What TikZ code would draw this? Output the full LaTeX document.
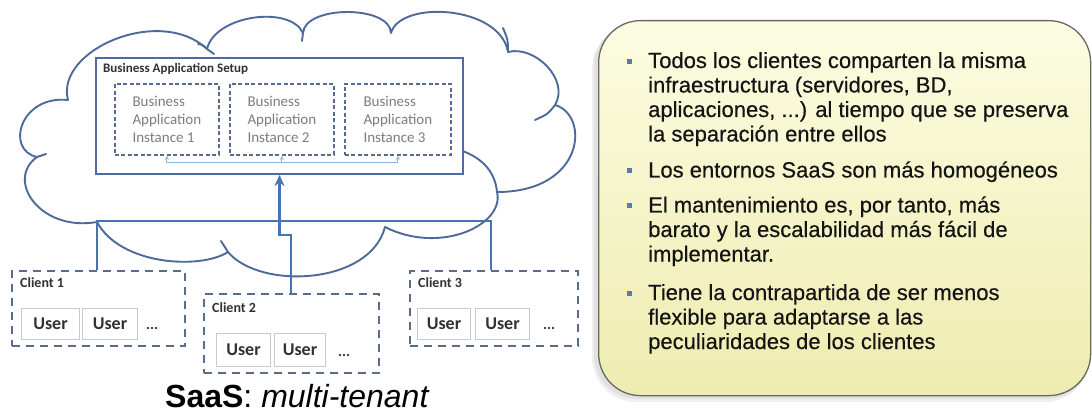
\documentclass[tikz,border=0pt]{standalone}
\usepackage{fontspec}
\setmainfont{Liberation Sans}
\newfontfamily\carl{Carlito}
\newfontfamily\pfont[FakeBold=0.4]{Liberation Sans}
\usetikzlibrary{arrows.meta}
\definecolor{cloudc}{RGB}{78,106,155}
\definecolor{connc}{RGB}{68,116,180}
\definecolor{boxc}{RGB}{78,108,160}
\definecolor{dashc}{RGB}{88,108,145}
\definecolor{userc}{RGB}{200,202,208}
\definecolor{lblc}{RGB}{50,50,50}
\definecolor{instc}{RGB}{125,125,125}
\definecolor{litec}{RGB}{150,180,215}
\definecolor{bulc}{RGB}{95,118,175}
\definecolor{txtc}{RGB}{20,20,20}
\definecolor{paneltop}{RGB}{252,252,226}
\definecolor{panelbot}{RGB}{238,236,176}
\definecolor{panelln}{RGB}{105,105,95}
\begin{document}
\begin{tikzpicture}[x=1pt,y=-1pt,
  cloudln/.style={draw=cloudc,line width=1.9pt,line join=round,line cap=round},
  conn/.style={draw=connc,line width=2.4pt},
  lite/.style={draw=litec,line width=1pt},
  setupbox/.style={draw=boxc,line width=2pt,fill=white,inner sep=0pt,anchor=north west},
  instbox/.style={draw=dashc,line width=1.8pt,dash pattern=on 4pt off 2.5pt,inner sep=0pt,anchor=north west,font=\carl\fontsize{15}{18}\selectfont,text=instc,align=left},
  clientbox/.style={draw=dashc,line width=2pt,dash pattern=on 8pt off 6pt,inner sep=0pt,anchor=north west},
  userbox/.style={draw=userc,line width=1pt,fill=white,inner sep=0pt,anchor=north west,font=\carl\bfseries\fontsize{18}{20}\selectfont,text=lblc},
  clientlbl/.style={anchor=base west,inner sep=0pt,font=\carl\bfseries\fontsize{14}{16}\selectfont,text=lblc},
  dots/.style={anchor=base west,inner sep=0pt,font=\carl\bfseries\fontsize{15}{16}\selectfont,text=lblc},
  ptxt/.style={anchor=base west,inner sep=0pt,font=\pfont\fontsize{22}{24.5}\selectfont,text=txtc},
  bul/.style={fill=bulc,minimum size=5pt,inner sep=0pt},
]
\useasboundingbox (0,0) rectangle (1092,414);
\fill[white] (0,0) rectangle (1092,414);

% cloud
\draw[cloudln,fill=white] (68,100) .. controls (55,50) and (160,5) .. (207,49)
 .. controls (215,15) and (290,5) .. (303,33)
 .. controls (305,5) and (390,5) .. (391,33)
 .. controls (400,0) and (500,5) .. (508,52)
 .. controls (535,45) and (570,80) .. (555,105)
 .. controls (590,115) and (585,192) .. (497,192)
 .. controls (505,225) and (440,255) .. (385,227)
 .. controls (370,285) and (260,290) .. (228,252)
 .. controls (200,270) and (120,265) .. (97,222)
 .. controls (40,232) and (5,180) .. (37,157)
 .. controls (5,150) and (20,95) .. (68,100) -- cycle;
\draw[cloudln] (207,49) .. controls (210,51) .. (214,54);
\draw[cloudln] (198,44) .. controls (203,45) .. (207,49);
\draw[cloudln] (303,33) .. controls (303,37) .. (302,41);
\draw[cloudln] (508,52) .. controls (508,40) .. (503,28);
\draw[cloudln] (555,105) .. controls (548,114) .. (535,120);
\draw[cloudln] (497,192) .. controls (495,170) and (480,155) .. (453,148);
\draw[cloudln] (228,252) .. controls (225,247) .. (221,241);
\draw[cloudln] (37,157) .. controls (41,155) .. (46,154);

% setup box
\node[setupbox,minimum width=367pt,minimum height=116pt] (setup) at (95,57) {};
\node[anchor=base west,inner sep=0pt,font=\carl\bfseries\fontsize{13}{15}\selectfont,text=lblc] (setuplbl) at (103,73) {Business Application Setup};
\node[instbox,minimum width=104pt,minimum height=71pt] (i1) at (114,83) {Business\\Application\\Instance 1};
\node[instbox,minimum width=104pt,minimum height=71pt] (i2) at (229,83) {Business\\Application\\Instance 2};
\node[instbox,minimum width=106pt,minimum height=71pt] (i3) at (344,83) {Business\\Application\\Instance 3};

\coordinate (tb) at (0,163);
\draw[lite] (i1.south |- tb) -- (i3.south |- tb);
\foreach \n in {i1,i2,i3}
  \draw[lite,-{Stealth[length=4pt,width=4pt]}] (\n.south |- tb) -- (\n.south);

% clients
\node[clientbox,minimum width=173pt,minimum height=75pt] (c1) at (11,270) {};
\node[clientbox,minimum width=175pt,minimum height=79pt] (c2) at (203,293) {};
\node[clientbox,minimum width=168pt,minimum height=75pt] (c3) at (409,270) {};
\node[clientlbl] (c1l) at (20,287) {Client 1};
\node[clientlbl] (c2l) at (212,312) {Client 2};
\node[clientlbl] (c3l) at (418,287) {Client 3};
\node[userbox,minimum width=58pt,minimum height=31pt] (u11) at (21,308) {User};
\node[userbox,minimum width=55pt,minimum height=31pt] (u12) at (82,308) {User};
\node[dots] (d1) at (146,329) {...};
\node[userbox,minimum width=54pt,minimum height=33pt] (u21) at (216,333) {User};
\node[userbox,minimum width=51pt,minimum height=33pt] (u22) at (274,333) {User};
\node[dots] (d2) at (338,356) {...};
\node[userbox,minimum width=53pt,minimum height=31pt] (u31) at (417,308) {User};
\node[userbox,minimum width=54pt,minimum height=31pt] (u32) at (475,308) {User};
\node[dots] (d3) at (543,329) {...};

% connectors
\coordinate (jl) at (97,221);
\coordinate (jr) at (491,221);
\coordinate (m1) at (291,235);
\coordinate (m2) at (setup.south |- m1);
\draw[conn] (c1.north -| jl) -- (jl) -- (jr) -- (c3.north -| jr);
\draw[conn,-{Stealth[length=11pt,width=10pt]}] (c2.north -| m1) -- (m1) -- (m2) -- (setup.south);

% title
\node[anchor=base west,inner sep=0pt,font=\fontsize{32}{36}\selectfont,text=black] (title) at (165,407) {\textbf{SaaS}: \textit{multi-tenant}};

% panel
\fill[black,opacity=0.06,rounded corners=44pt] (592,25) rectangle (1089,402);
\fill[black,opacity=0.06,rounded corners=43pt] (594,23) rectangle (1090,399);
\node[draw=panelln,line width=1.3pt,rounded corners=42pt,minimum width=492pt,minimum height=375pt,anchor=north west,top color=paneltop,bottom color=panelbot,inner sep=0pt] (panel) at (598,20) {};

\node[bul] (b1) at (629,61.5) {};
\node[bul] (b2) at (629,171) {};
\node[bul] (b3) at (629,206) {};
\node[bul] (b4) at (629,293.5) {};
\node[ptxt] (l1) at (648,68) {Todos los clientes comparten la misma};
\node[ptxt] (l2) at (648,92.5) {infraestructura (servidores, BD,};
\node[ptxt] (l3) at (648,117) {aplicaciones, ...) al tiempo que se preserva};
\node[ptxt] (l4) at (648,141.5) {la separación entre ellos};
\node[ptxt] (l5) at (648,177.5) {Los entornos SaaS son más homogéneos};
\node[ptxt] (l6) at (648,212.5) {El mantenimiento es, por tanto, más};
\node[ptxt] (l7) at (648,237) {barato y la escalabilidad más fácil de};
\node[ptxt] (l8) at (648,261.5) {implementar.};
\node[ptxt] (l9) at (648,300) {Tiene la contrapartida de ser menos};
\node[ptxt] (l10) at (648,324.5) {flexible para adaptarse a las};
\node[ptxt] (l11) at (648,349) {peculiaridades de los clientes};
\end{tikzpicture}
\end{document}
